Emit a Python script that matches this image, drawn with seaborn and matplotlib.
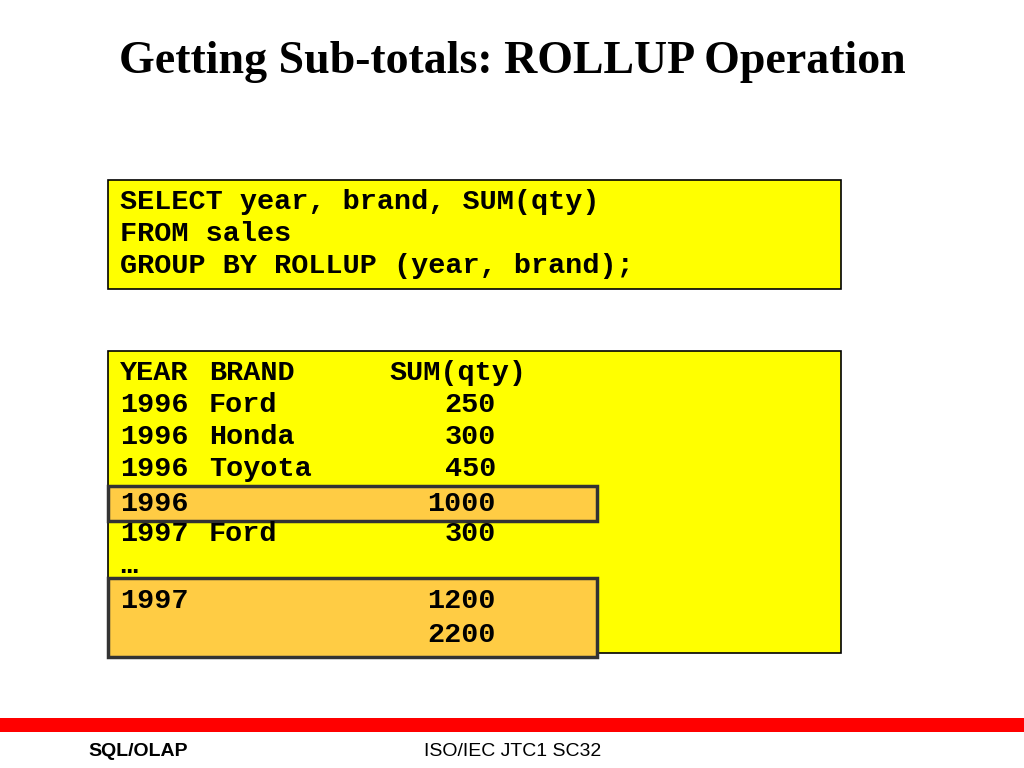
import matplotlib
matplotlib.use('Agg')
import matplotlib.pyplot as plt
from matplotlib.patches import Rectangle
import seaborn as sns

sns.set_theme(style='white')

TITLE = 'Getting Sub-totals: ROLLUP Operation'
SQL_LINES = ['SELECT year, brand, SUM(qty)', 'FROM sales', 'GROUP BY ROLLUP (year, brand);']
HEADER = ['YEAR', 'BRAND', 'SUM(qty)']
YEARS = ['1996', '1996', '1996', '1996', '1997', '\u2026', '1997', '']
BRANDS = ['Ford', 'Honda', 'Toyota', '', 'Ford', '', '', '']
QTY = ['250', '300', '450', '1000', '300', '', '1200', '2200']

fig = plt.figure(figsize=(10.24, 7.68), dpi=100)
ax = fig.add_axes([0, 0, 1, 1])
ax.set_xlim(0, 1024)
ax.set_ylim(768, 0)
ax.axis('off')

mono = dict(family='Liberation Mono', weight='bold', fontsize=20.5, va='center', color='black')

ax.text(512, 62, TITLE, ha='center', va='center', family='Liberation Serif',
        weight='bold', fontsize=33, color='black')

# query box
ax.add_patch(Rectangle((108, 180), 733, 109, facecolor='#FFFF00', edgecolor='black', lw=1.2))
for i, line in enumerate(SQL_LINES):
    ax.text(120, 202 + 32 * i, line, **mono)

# result box
ax.add_patch(Rectangle((108, 351), 733, 302, facecolor='#FFFF00', edgecolor='black', lw=1.2))
ax.add_patch(Rectangle((108, 486), 489, 35, facecolor='#FFCC44', edgecolor='#333333', lw=2.5))
ax.add_patch(Rectangle((108, 578), 489, 79, facecolor='#FFCC44', edgecolor='#333333', lw=2.5))

ax.text(120, 373, HEADER[0], **mono)
ax.text(209, 373, HEADER[1], **mono)
ax.text(389, 373, HEADER[2], **mono)
row_y = [405, 437, 469, 504, 534, 566, 601, 635]
for y, yr, br, q in zip(row_y, YEARS, BRANDS, QTY):
    ax.text(120, y, yr, **mono)
    ax.text(209, y, br, **mono)
    ax.text(496, y, q, ha='right', **mono)

# footer
ax.add_patch(Rectangle((0, 718), 1024, 14, facecolor='#FF0000', edgecolor='none'))
ax.text(88, 752, 'SQL/OLAP', family='Liberation Sans', weight='bold', fontsize=14,
        va='center', color='black')
ax.text(424, 752, 'ISO/IEC JTC1 SC32', family='Liberation Sans', fontsize=14,
        va='center', color='black')

fig.savefig('out.png', dpi=100)
